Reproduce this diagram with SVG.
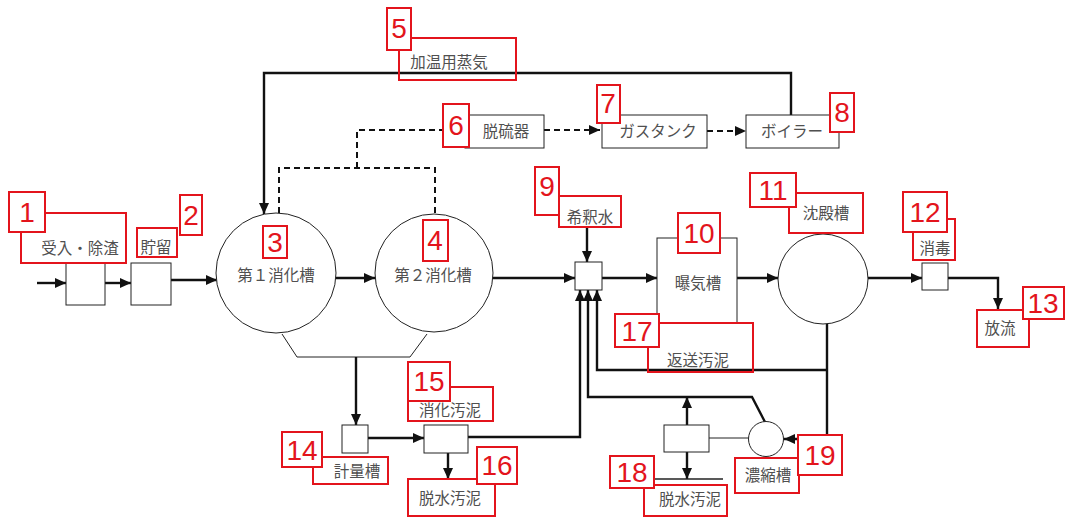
<svg xmlns="http://www.w3.org/2000/svg" width="1065" height="518" viewBox="0 0 1065 518">
<style>
.ln{fill:none;stroke:#111;stroke-width:2.4}
.dl{fill:none;stroke:#111;stroke-width:2;stroke-dasharray:6 4}
.th{fill:none;stroke:#222;stroke-width:1}
.bx{fill:#fff;stroke:#222;stroke-width:1}
.rl{fill:none;stroke:#e3141c;stroke-width:2}
.rn{fill:#fff;stroke:#e3141c;stroke-width:2}
.nt{font-family:"Liberation Sans",Arial,sans-serif;font-size:28px;fill:#e3141c;text-anchor:middle}
.lt{font-family:"Noto Sans CJK JP","Noto Sans",sans-serif;font-size:15.5px;fill:#505050;text-anchor:middle}
</style>
<defs>
<marker id="ah" markerUnits="userSpaceOnUse" markerWidth="11" markerHeight="10" refX="11" refY="5" orient="auto">
<path d="M0,0 L11,5 L0,10 z" fill="#111"/>
</marker>
</defs>
<rect width="1065" height="518" fill="#fff"/>

<g id="connectors">
<line class="ln" x1="37" y1="283" x2="66" y2="283" marker-end="url(#ah)"/>
<line class="ln" x1="105" y1="283" x2="131" y2="283" marker-end="url(#ah)"/>
<line class="ln" x1="171" y1="280" x2="217" y2="280" marker-end="url(#ah)"/>
<line class="ln" x1="336" y1="278" x2="375" y2="278" marker-end="url(#ah)"/>
<line class="ln" x1="493" y1="278" x2="575" y2="278" marker-end="url(#ah)"/>
<line class="ln" x1="587" y1="227" x2="587" y2="262" marker-end="url(#ah)"/>
<line class="ln" x1="602" y1="278" x2="657" y2="278" marker-end="url(#ah)"/>
<line class="ln" x1="737" y1="278" x2="778" y2="278" marker-end="url(#ah)"/>
<line class="ln" x1="868" y1="278" x2="922" y2="278" marker-end="url(#ah)"/>
<polyline class="ln" points="948,278 998,278 998,309" marker-end="url(#ah)"/>
<polyline class="ln" points="791,115 791,73 264,73 264,214" marker-end="url(#ah)"/>
<polyline class="dl" points="465,130 357,130 357,168"/>
<polyline class="dl" points="279,213 279,168 435,168 435,214"/>
<line class="dl" x1="544" y1="130" x2="600" y2="130" marker-end="url(#ah)"/>
<line class="dl" x1="707" y1="131" x2="746" y2="131" marker-end="url(#ah)"/>
<polyline class="th" points="282,334 297,357 410,357 427,334"/>
<line class="ln" x1="356" y1="357" x2="356" y2="425" marker-end="url(#ah)"/>
<line class="ln" x1="368" y1="438" x2="424" y2="438" marker-end="url(#ah)"/>
<polyline class="ln" points="468,437 580,437 580,290" marker-end="url(#ah)"/>
<line class="ln" x1="448" y1="453" x2="448" y2="479" marker-end="url(#ah)"/>
<polyline class="ln" points="765,422 752,397 588,397 588,290" marker-end="url(#ah)"/>
<polyline class="ln" points="827,370 597,370 597,290" marker-end="url(#ah)"/>
<polyline class="ln" points="827,324 827,439 784,439" marker-end="url(#ah)"/>
<line class="ln" x1="687" y1="425" x2="687" y2="397" marker-end="url(#ah)"/>
<line class="ln" x1="687" y1="452" x2="687" y2="479" marker-end="url(#ah)"/>
<line class="th" x1="655" y1="479" x2="723" y2="479" style="stroke-width:1.5"/>
<line class="th" x1="709" y1="438" x2="749" y2="438"/>
</g>

<g id="n1">
<rect class="bx" x="66" y="263" width="39" height="42"/>
<rect class="rl" x="21" y="213" width="105" height="50"/>
<text class="lt" x="80" y="254">受入・除渣</text>
<rect class="rn" x="9" y="192" width="36" height="40"/>
<text class="nt" x="27" y="222">1</text>
</g>
<g id="n2">
<rect class="bx" x="131" y="263" width="40" height="42"/>
<text class="lt" x="156" y="253">貯留</text>
<rect class="rl" x="137" y="228" width="40" height="29"/>
<rect class="rn" x="180" y="195" width="22" height="40"/>
<text class="nt" x="191" y="225">2</text>
</g>
<g id="n3">
<circle class="bx" cx="276" cy="273" r="60"/>
<text class="lt" x="276" y="281">第１消化槽</text>
<rect class="rn" x="263" y="226" width="24" height="32"/>
<text class="nt" x="275" y="252">3</text>
</g>
<g id="n4">
<circle class="bx" cx="434" cy="273" r="59"/>
<text class="lt" x="433" y="281">第２消化槽</text>
<rect class="rn" x="423" y="220" width="25" height="41"/>
<text class="nt" x="435" y="250">4</text>
</g>
<g id="n5">
<rect class="rl" x="399" y="38" width="117" height="42"/>
<text class="lt" x="449" y="68">加温用蒸気</text>
<rect class="rn" x="387" y="8" width="24" height="42"/>
<text class="nt" x="399" y="38">5</text>
</g>
<g id="n6">
<rect class="bx" x="465" y="115" width="79" height="33"/>
<text class="lt" x="506" y="137">脱硫器</text>
<rect class="rn" x="443" y="104" width="26" height="43"/>
<text class="nt" x="456" y="135">6</text>
</g>
<g id="n7">
<rect class="bx" x="602" y="115" width="105" height="33"/>
<text class="lt" x="658" y="137">ガスタンク</text>
<rect class="rn" x="597" y="85" width="23" height="38"/>
<text class="nt" x="608" y="113">7</text>
</g>
<g id="n8">
<rect class="bx" x="746" y="115" width="93" height="33"/>
<text class="lt" x="792" y="137">ボイラー</text>
<rect class="rn" x="830" y="93" width="24" height="39"/>
<text class="nt" x="842" y="122">8</text>
</g>
<g id="n9">
<rect class="bx" x="575" y="262" width="27" height="28"/>
<rect class="rl" x="559" y="196" width="62" height="31"/>
<text class="lt" x="590" y="223">希釈水</text>
<rect class="rn" x="535" y="167" width="24" height="48"/>
<text class="nt" x="547" y="196">9</text>
</g>
<g id="n10">
<rect class="bx" x="657" y="238" width="80" height="85"/>
<text class="lt" x="698" y="289">曝気槽</text>
<rect class="rn" x="678" y="213" width="42" height="40"/>
<text class="nt" x="699" y="243">10</text>
</g>
<g id="n11">
<circle class="bx" cx="823" cy="279" r="45"/>
<rect class="rl" x="789" y="193" width="74" height="40"/>
<text class="lt" x="826" y="219">沈殿槽</text>
<rect class="rn" x="750" y="173" width="46" height="34"/>
<text class="nt" x="773" y="200">11</text>
</g>
<g id="n12">
<rect class="bx" x="922" y="263" width="26" height="27"/>
<rect class="rl" x="913" y="219" width="42" height="41"/>
<text class="lt" x="935" y="254">消毒</text>
<rect class="rn" x="903" y="192" width="44" height="40"/>
<text class="nt" x="925" y="222">12</text>
</g>
<g id="n13">
<rect class="rl" x="977" y="310" width="52" height="37"/>
<text class="lt" x="1000" y="334">放流</text>
<rect class="rn" x="1023" y="287" width="41" height="32"/>
<text class="nt" x="1043" y="313">13</text>
</g>
<g id="n14">
<rect class="bx" x="342" y="425" width="26" height="28"/>
<rect class="rl" x="313" y="457" width="75" height="27"/>
<text class="lt" x="357" y="477">計量槽</text>
<rect class="rn" x="282" y="432" width="40" height="35"/>
<text class="nt" x="302" y="460">14</text>
</g>
<g id="n15">
<rect class="bx" x="424" y="425" width="44" height="28"/>
<rect class="rl" x="408" y="387" width="85" height="34"/>
<text class="lt" x="450" y="416">消化汚泥</text>
<rect class="rn" x="408" y="362" width="42" height="39"/>
<text class="nt" x="429" y="391">15</text>
</g>
<g id="n16">
<rect class="rl" x="408" y="479" width="87" height="37"/>
<text class="lt" x="450" y="504">脱水汚泥</text>
<rect class="rn" x="477" y="447" width="40" height="37"/>
<text class="nt" x="497" y="475">16</text>
</g>
<g id="n17">
<rect class="rl" x="648" y="323" width="105" height="49"/>
<text class="lt" x="698" y="366">返送汚泥</text>
<rect class="rn" x="615" y="314" width="44" height="33"/>
<text class="nt" x="637" y="341">17</text>
</g>
<g id="n18">
<rect class="bx" x="664" y="425" width="45" height="27"/>
<rect class="rl" x="644" y="485" width="83" height="31"/>
<text class="lt" x="690" y="505">脱水汚泥</text>
<rect class="rn" x="610" y="456" width="44" height="32"/>
<text class="nt" x="632" y="482">18</text>
</g>
<g id="n19">
<circle class="bx" cx="766" cy="439" r="17.5"/>
<rect class="rl" x="735" y="458" width="64" height="35"/>
<text class="lt" x="768" y="481">濃縮槽</text>
<rect class="rn" x="798" y="435" width="44" height="40"/>
<text class="nt" x="820" y="465">19</text>
</g>
</svg>
